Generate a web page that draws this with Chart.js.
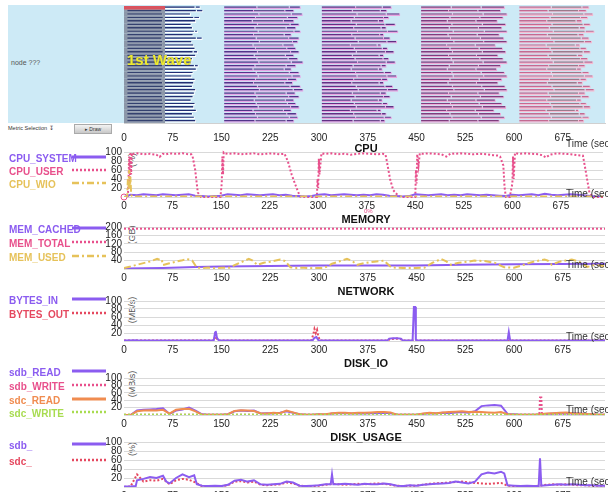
<!DOCTYPE html>
<html>
<head>
<meta charset="utf-8">
<script src="https://cdn.jsdelivr.net/npm/chart.js@4.4.0/dist/chart.umd.min.js"></script>
<style>
body{margin:0;width:608px;height:492px;overflow:hidden;background:#fff;font-family:"Liberation Sans",Arial,sans-serif;position:relative}
.box{position:absolute;left:0;width:608px}
.title{position:absolute;left:366px;font-weight:bold;font-size:11px;color:#111;transform:translate(-50%,-50%);white-space:nowrap}
.lg{position:absolute;left:9px;font-weight:bold;font-size:10px;transform:translateY(-50%);white-space:nowrap}
.ts{position:absolute;left:566px;font-size:10px;color:#333;transform:translateY(-50%);white-space:nowrap}
.unit{position:absolute;left:132px;font-size:9px;color:#555;transform:translate(-50%,-50%) rotate(-90deg);white-space:nowrap}
</style>
</head>
<body>
<div style="position:absolute;left:8px;top:5px;width:597px;height:118px;background:#cdeaf6"></div>
<div style="position:absolute;left:11px;top:59px;font-size:7px;color:#555">node ???</div>
<div style="position:absolute;left:8px;top:125px;font-size:5.5px;color:#333;white-space:nowrap">Metric Selection &#8615;</div>
<div style="position:absolute;left:74px;top:124px;width:36px;height:8px;border:1px solid #aaa;background:linear-gradient(#f4f4f4,#c8c8c8);font-size:5px;line-height:8px;color:#333;text-align:center">&#9656; Draw</div>

<div id="units"></div>
<div class="box" style="top:0;height:145px"><canvas id="gantt"></canvas></div>
<div class="box" style="top:144px;height:69px"><canvas id="cpu"></canvas></div>
<div class="box" style="top:219px;height:66px"><canvas id="mem"></canvas></div>
<div class="box" style="top:293px;height:64px"><canvas id="net"></canvas></div>
<div class="box" style="top:370px;height:61px"><canvas id="dio"></canvas></div>
<div class="box" style="top:434px;height:69px"><canvas id="dus"></canvas></div>

<div style="position:absolute;left:127px;top:51px;font-size:15px;font-weight:bold;color:#eeea30;text-shadow:0 0 1px #6a6a40">1st Wave</div>
<div id="labels"></div>
<svg id="lgsvg" width="120" height="492" style="position:absolute;left:0;top:0"></svg>

<script>
// time axis
const timeTicks = [0, 75, 150, 225, 300, 375, 450, 525, 600, 675];
const t10 = [0,10,20,30,40,50,60,70,80,90,100,110,120,130,140,150,160,170,180,190,200,210,220,230,240,250,260,270,280,290,300,310,320,330,340,350,360,370,380,390,400,410,420,430,440,450,460,470,480,490,500,510,520,530,540,550,560,570,580,590,600,610,620,630,640,650,660,670,680,690,700,710,720,730,740];

// CPU (%)
const cpuSystem = [0,5,4,6,5,4,6,5,4,5, 6,3,2,1,2,3,6,5,4,6, 5,4,5,6,4,5,3,2,1,2, 5,6,4,5,6,5,4,5,4,6, 5,3,2,1,2,6,5,4,5,6, 4,5,4,6,5,4,5,4,3,2, 5,4,5,6,4,7,5,4,5,6, 5,4,2,1,1];
const cpuUser = [[0,0],[6,0],[7,40],[8,90],[9,30],[10,100],[11,50],[12,98],[14,96],[20,97],[30,95],[40,96],[50,94],[55,89],[60,96],[65,95],[70,97],[80,96],[90,97],[100,95],[104,95],[106,90],[110,60],[114,10],[119,0],[130,0],[140,0],[149,0],[151,30],[152,90],[153,50],[154,99],[156,97],[160,96],[170,97],[180,95],[190,96],[200,97],[210,95],[220,96],[230,97],[240,95],[248,96],[253,80],[259,50],[264,30],[268,15],[272,1],[280,0],[290,0],[298,0],[299,40],[300,20],[301,85],[302,50],[305,97],[310,96],[320,97],[330,95],[340,96],[350,94],[360,96],[370,97],[380,96],[390,95],[400,96],[404,94],[406,80],[411,40],[416,15],[424,2],[431,0],[440,0],[450,0],[451,60],[452,30],[453,95],[455,70],[457,97],[460,96],[470,97],[480,96],[490,95],[498,90],[505,97],[510,96],[520,97],[530,96],[540,95],[550,96],[560,95],[570,93],[578,92],[581,90],[586,70],[588,20],[590,0],[596,0],[600,30],[601,90],[602,40],[604,98],[606,97],[610,96],[620,97],[630,96],[640,95],[646,93],[652,88],[658,94],[665,96],[670,97],[680,96],[690,95],[700,93],[709,92],[713,60],[719,10],[724,0],[740,0]];
const cpuWio = [[0,0],[5,0],[6,40],[7,20],[8,60],[9,15],[10,45],[11,5],[13,1],[20,1],[100,1],[200,1],[300,1],[400,1],[500,1],[600,1],[700,1],[740,1]];

// MEMORY (GB)
const memCached = [[0,2],[60,5],[110,10],[150,12],[260,15],[300,17],[450,17],[520,20],[600,23],[740,25]];
const memTotal = [[0,192],[740,192]];
const memUsed = [[0,5],[10,12],[20,20],[30,28],[40,36],[51,48],[55,44],[58,46],[60,19],[70,27],[80,35],[90,42],[97,48],[105,40],[112,6],[120,5],[130,7],[140,4],[150,6],[163,6],[170,18],[180,32],[192,48],[198,40],[205,20],[215,30],[225,35],[240,45],[248,38],[256,8],[265,5],[277,6],[290,4],[308,5],[320,25],[333,38],[343,48],[350,40],[359,20],[370,28],[385,35],[400,40],[411,8],[420,6],[435,4],[450,5],[462,6],[475,30],[488,48],[495,38],[503,20],[515,30],[530,35],[539,40],[555,38],[570,30],[585,8],[600,6],[615,20],[630,35],[647,45],[652,40],[658,20],[670,35],[680,40],[689,45],[700,35],[713,10],[725,20],[740,12]];

// NETWORK (MB/s)
const bytesIn = [[0,1],[20,2],[22,1],[138,1],[140,20],[141,25],[143,8],[146,1],[290,1],[293,8],[296,10],[299,2],[302,1],[405,1],[408,6],[414,7],[420,7],[426,6],[429,1],[444,1],[446,85],[448,85],[449,3],[452,1],[590,1],[592,22],[594,2],[597,1],[740,1]];
const bytesOut = [[0,1],[139,1],[141,22],[143,5],[146,1],[288,1],[291,15],[293,30],[295,20],[297,28],[299,10],[302,1],[406,1],[409,5],[420,6],[427,4],[430,1],[740,1]];

// DISK_IO (MB/s)
const sdbRead = [0,0,12,14,15,16,18,3,12,15, 20,12,2,1,1,1,2,10,12,11, 12,4,5,4,6,10,6,2,1,1, 2,1,4,5,5,4,5,4,5,5, 6,5,1,1,1,1,3,5,4,6, 5,7,8,6,10,24,26,27,25,3, 2,1,1,1,1,3,4,5,4,5, 4,3,2,1,1];
const sdcRead = [0,0,10,12,13,12,14,4,14,16, 17,10,1,1,1,1,2,11,13,12, 11,5,4,6,5,12,7,2,1,1, 2,2,5,6,6,5,6,6,7,8, 8,7,1,1,1,1,4,6,5,7, 8,9,10,8,9,8,7,6,8,2, 1,1,1,1,2,4,5,6,7,5, 4,3,2,1,1];
const sdbWrite = [[0,1],[639,1],[640,47],[642,47],[643,1],[740,1]];
const sdcWrite = [[0,1],[740,1]];

// DISK_USAGE (%)
const sdbUsage = [[0,1],[10,1],[18,2],[20,15],[30,18],[40,22],[50,20],[60,25],[65,12],[70,8],[80,20],[90,28],[100,22],[108,26],[112,6],[120,3],[130,2],[140,3],[150,2],[160,5],[170,14],[180,16],[190,12],[200,15],[210,6],[220,5],[230,6],[240,7],[250,12],[260,10],[270,3],[280,2],[290,3],[300,4],[310,6],[318,6],[320,28],[322,6],[330,6],[340,7],[350,6],[360,5],[370,7],[380,6],[390,6],[400,8],[410,6],[420,3],[430,2],[440,4],[450,3],[460,5],[470,6],[480,7],[490,8],[500,9],[510,12],[520,10],[530,8],[540,12],[550,28],[560,32],[570,30],[580,34],[585,30],[590,4],[600,3],[610,2],[620,3],[630,2],[638,2],[640,64],[642,3],[650,4],[660,5],[670,6],[680,5],[690,6],[700,5],[710,4],[720,4],[730,3],[740,3]];
const sdcUsage = [0,1,28,12,15,14,18,6,15,18, 16,10,2,2,2,2,4,12,13,10, 12,5,4,5,6,10,8,3,2,2, 3,5,7,6,5,6,7,6,7,8, 7,5,3,2,3,3,5,7,8,9, 10,11,12,10,9,8,7,8,9,3, 2,2,2,2,3,5,6,5,6,5, 4,4,3,3,3];

// task waves (sec), one entry per task row
const waveStart = [5, 154, 304, 457, 608];
const w1Block = 63;
const w1b1 = [60,59,60,61,60,59,60,60,61,59,60,60,59,61,60,60,59,60,61,60,60,59,60,61,60,59,60,60,61,60,59,60,60,61];
const w1b2 = [110,112,103,108,111,104,106,109,107,112,105,108,110,107,111,106,104,109,112,107,105,110,108,106,111,109,107,104,110,108,112,106,109,111];
const w1e  = [118,122,103,117,111,104,106,114,107,121,105,108,110,114,111,106,104,115,112,107,105,110,108,106,111,109,107,104,110,108,112,106,109,111];
const w2b1 = [205,200,208,203,198,206,202,207,200,204,209,199,203,206,201,205,208,202,199,204,207,203,200,206,209,202,205,201,204,207,199,203,206,202];
const w2b2 = [255,248,258,252,246,256,250,262,247,254,260,245,251,257,249,253,258,250,247,255,259,252,248,256,261,250,254,249,252,257,246,251,255,250];
const w2e  = [272,262,275,268,262,270,265,272,258,270,268,262,265,270,262,268,276,265,258,270,272,266,260,272,276,264,270,262,265,270,258,266,268,262];
const w3b1 = [357,352,359,355,350,358,354,360,351,356,361,349,355,358,352,356,360,353,350,357,359,354,351,358,361,352,356,350,355,358,349,354,357,353];
const w3b2 = [398,395,404,400,392,402,396,406,394,400,405,390,398,403,393,399,404,396,392,401,405,397,393,402,406,395,400,392,398,403,390,397,401,395];
const w3e  = [412,405,425,408,400,418,404,422,400,410,420,396,406,416,400,408,418,404,398,412,420,406,400,414,422,404,410,398,406,416,396,404,412,402];
const w4b1 = [504,500,506,502,498,505,501,507,499,503,508,497,502,506,500,504,507,501,498,505,507,502,499,506,508,500,504,498,503,506,497,502,505,501];
const w4b2 = [550,545,553,548,542,552,546,555,544,549,554,541,547,552,543,548,553,546,542,550,554,547,543,551,555,545,549,542,547,552,541,546,550,545];
const w4e  = [586,580,590,584,575,588,582,590,578,585,590,572,583,588,576,584,590,580,574,586,590,582,576,587,590,578,585,572,582,588,570,580,586,578];
const w5b1 = [658,653,660,656,651,659,655,661,652,657,662,650,656,659,653,657,661,654,651,658,660,655,652,659,662,653,657,651,656,659,650,655,658,654];
const w5b2 = [705,700,708,703,696,707,701,710,699,704,709,695,702,707,698,703,708,700,697,705,709,702,698,706,710,700,704,697,702,707,695,701,705,700];
const w5e  = [716,712,722,714,705,718,710,724,708,716,720,702,712,718,706,714,722,710,704,716,722,712,706,718,724,710,716,704,712,718,700,710,716,708];

const PURPLE = '#8b5cf0', PINK = '#e8508c', YELLOW = '#e6c25a', RED = '#e5485f', ORANGE = '#f08c50', GREEN = '#a8dc50';
const FONT = {family: '"Liberation Sans", Arial, sans-serif', size: 10};

const rows = w1b1.map((_, i) => 'task ' + (i + 1));
const pick = (v, i) => Array.isArray(v) ? v[i] : v;
const seg = (a, b) => rows.map((_, i) => pick(b, i) > pick(a, i) ? [pick(a, i), pick(b, i)] : null);

function bars(data, fill, edge, order, pct) {
  return {
    data, backgroundColor: fill, borderColor: edge,
    borderWidth: {top: 0, left: 0, right: 1, bottom: 1.4}, borderSkipped: false,
    grouped: false, barPercentage: pct || 0.82, categoryPercentage: 1, order
  };
}

function xAxis(h, pad) {
  return {
    type: 'linear', min: 0, max: 740,
    afterBuildTicks: s => { s.ticks = timeTicks.map(v => ({value: v})); },
    afterFit: s => { s.height = h; },
    ticks: {autoSkip: false, maxRotation: 0, padding: pad, color: '#222', font: FONT},
    grid: {display: false, drawTicks: false},
    border: {display: false}
  };
}

new Chart(document.getElementById('gantt'), {
  type: 'bar',
  data: {
    labels: rows,
    datasets: [
      bars(seg(0, w1Block), '#8c97a8', '#8c97a8', 20, 1),
      bars(rows.map((_, i) => i === 0 ? [0, w1Block] : null), '#d9535f', '#d9535f', 1, 1),
      bars(seg(waveStart[0], w1b1), '#34416f', '#9aa4b6', 5),
      bars(seg(w1Block, w1b2), '#212e72', '#ffffff', 5),
      bars(seg(w1b2, w1e), '#2e3c84', '#ffffff', 5),
      bars(seg(waveStart[1], w2b1), '#52348a', '#e6a6e6', 5),
      bars(seg(w2b1, w2b2), '#655494', '#e6a6e6', 5),
      bars(seg(w2b2, w2e), '#52348a', '#e6a6e6', 5),
      bars(seg(waveStart[2], w3b1), '#622f84', '#eaa4e0', 5),
      bars(seg(w3b1, w3b2), '#6e4a8e', '#eaa4e0', 5),
      bars(seg(w3b2, w3e), '#622f84', '#eaa4e0', 5),
      bars(seg(waveStart[3], w4b1), '#803c7e', '#efaad6', 5),
      bars(seg(w4b1, w4b2), '#8c5086', '#efaad6', 5),
      bars(seg(w4b2, w4e), '#803c7e', '#efaad6', 5),
      bars(seg(waveStart[4], w5b1), '#c46a92', '#f6bcd2', 5),
      bars(seg(w5b1, w5b2), '#9c7a8c', '#f6bcd2', 5),
      bars(seg(w5b2, w5e), '#c46a92', '#f6bcd2', 5)
    ]
  },
  options: {
    indexAxis: 'y', animation: false, responsive: true, maintainAspectRatio: false,
    layout: {padding: {left: 124, right: 3, top: 6, bottom: 0}},
    plugins: {legend: {display: false}, tooltip: {enabled: false}},
    scales: {
      x: Object.assign(xAxis(22, 9), {border: {display: true, color: '#d0d0d0'}}),
      y: {display: false}
    }
  }
});

const pts = (t, v) => v.map((y, i) => ({x: t[i], y}));
const pairs = p => p.map(([x, y]) => ({x, y}));
const SOLID = [], DOT = [2, 2], DASHDOT = [7, 3, 2, 3];

function line(data, color, dash, extra) {
  return Object.assign({data, borderColor: color, backgroundColor: color, borderWidth: 2,
    borderDash: dash, pointRadius: 0, tension: 0, fill: false}, extra || {});
}

function panel(id, max, step, datasets) {
  new Chart(document.getElementById(id), {
    type: 'line',
    data: {datasets},
    options: {
      animation: false, responsive: true, maintainAspectRatio: false,
      layout: {padding: {top: 8, right: 3, left: 0, bottom: 0}},
      plugins: {legend: {display: false}, tooltip: {enabled: false}},
      scales: {
        x: xAxis(16, 3),
        y: {
          min: 0, max,
          afterFit: s => { s.width = 124; },
          ticks: {stepSize: step, autoSkip: false, padding: 2, color: '#222', font: FONT,
            callback: v => v === 0 ? '' : v},
          grid: {color: '#d9d9d9', drawTicks: false},
          border: {display: false}
        }
      }
    }
  });
}

panel('cpu', 100, 20, [
  line(pairs(cpuWio), YELLOW, DASHDOT),
  line(pts(t10, cpuSystem), PURPLE, SOLID),
  line(pairs(cpuUser), PINK, DOT, {clip: false, pointRadius: c => c.dataIndex === 0 ? 3 : 0,
    pointBackgroundColor: '#fff', pointBorderColor: PINK, pointBorderWidth: 1})
]);
panel('mem', 200, 40, [
  line(pairs(memUsed), YELLOW, DASHDOT),
  line(pairs(memCached), PURPLE, SOLID),
  line(pairs(memTotal), PINK, DOT)
]);
panel('net', 100, 20, [
  line(pairs(bytesIn), PURPLE, SOLID),
  line(pairs(bytesOut), RED, DOT)
]);
panel('dio', 100, 20, [
  line(pairs(sdcWrite), GREEN, DOT),
  line(pts(t10, sdcRead), ORANGE, SOLID),
  line(pts(t10, sdbRead), PURPLE, SOLID),
  line(pairs(sdbWrite), PINK, DOT)
]);
panel('dus', 100, 20, [
  line(pairs(sdbUsage), PURPLE, SOLID),
  line(pts(t10, sdcUsage), RED, DOT)
]);

// titles, axis captions, legends
const titles = [['CPU', 148], ['MEMORY', 219], ['NETWORK', 291], ['DISK_IO', 363], ['DISK_USAGE', 437]];
const timeLabels = [143, 193, 264, 336, 409, 481];
const units = [['(%)', 160], ['(GB)', 235], ['(MB/s)', 310], ['(MB/s)', 384], ['(%)', 449]];
const legend = [
  ['CPU_SYSTEM', PURPLE, 158, SOLID], ['CPU_USER', PINK, 171, DOT], ['CPU_WIO', YELLOW, 184, DASHDOT],
  ['MEM_CACHED', PURPLE, 229, SOLID], ['MEM_TOTAL', PINK, 243, DOT], ['MEM_USED', YELLOW, 257, DASHDOT],
  ['BYTES_IN', PURPLE, 300, SOLID], ['BYTES_OUT', RED, 314, DOT],
  ['sdb_READ', PURPLE, 372, SOLID], ['sdb_WRITE', PINK, 386, DOT], ['sdc_READ', ORANGE, 400, SOLID], ['sdc_WRITE', GREEN, 413, DOT],
  ['sdb_', PURPLE, 445, SOLID], ['sdc_', RED, 461, DOT]
];

const lab = document.getElementById('labels');
const add = (parent, cls, text, css) => {
  const d = document.createElement('div');
  d.className = cls; d.textContent = text; d.style.cssText = css;
  parent.appendChild(d);
};
titles.forEach(([t, y]) => add(lab, 'title', t, 'top:' + y + 'px'));
timeLabels.forEach(y => add(lab, 'ts', 'Time (sec)', 'top:' + y + 'px'));
units.forEach(([t, y]) => add(document.getElementById('units'), 'unit', t, 'top:' + y + 'px'));
add(lab, 'ts', '0%', 'left:364px;top:211px;font-size:6px;color:' + PINK);

const svg = document.getElementById('lgsvg');
legend.forEach(([t, c, y, dash]) => {
  add(lab, 'lg', t, 'top:' + y + 'px;color:' + c);
  const l = document.createElementNS('http://www.w3.org/2000/svg', 'line');
  l.setAttribute('x1', 72); l.setAttribute('x2', 106);
  l.setAttribute('y1', y - 1); l.setAttribute('y2', y - 1);
  l.setAttribute('stroke', c);
  l.setAttribute('stroke-width', dash.length ? 2.5 : 3);
  if (dash.length) l.setAttribute('stroke-dasharray', dash.join(','));
  svg.appendChild(l);
});
</script>
</body>
</html>
